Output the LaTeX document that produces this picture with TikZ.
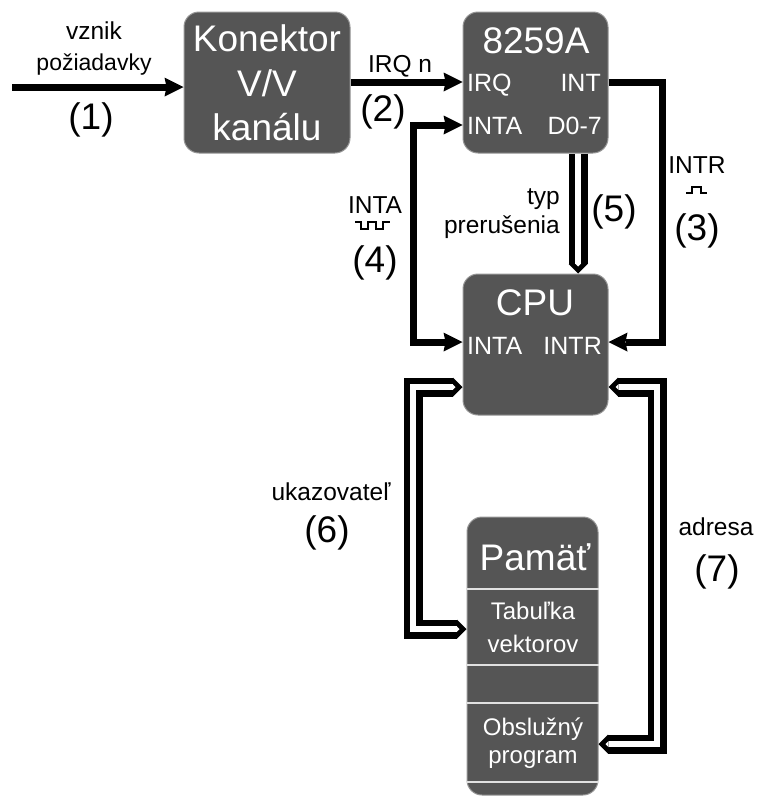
\documentclass[tikz,border=0pt]{standalone}
\usepackage{fontspec}
\setmainfont{Liberation Sans}
\usetikzlibrary{arrows.meta}
\definecolor{boxfill}{RGB}{85,85,85}
\definecolor{boxedge}{RGB}{150,150,150}
\definecolor{divline}{RGB}{225,225,225}
\tikzset{
  box/.style={draw=boxedge, line width=1pt, fill=boxfill, rounded corners=15pt, inner sep=0pt},
  ttl/.style={text=white, font=\fontsize{37}{43}\selectfont, inner sep=0pt, anchor=base},
  port/.style={text=white, font=\fontsize{25}{29}\selectfont, inner sep=0pt},
  memtxt/.style={text=white, font=\fontsize{24}{28}\selectfont, inner sep=0pt, anchor=base},
  lbl/.style={font=\fontsize{24.5}{28}\selectfont, inner sep=0pt, anchor=base},
  num/.style={font=\fontsize{37}{42}\selectfont, inner sep=0pt, anchor=base},
  SingleTip/.tip={Stealth[length=19pt,width=19pt,inset=2pt,line width=0pt]},
  OutTip/.tip={Triangle[length=9.5pt,width=19pt,line width=0pt]},
  InTip/.tip={Triangle[length=3pt,width=6pt,line width=0pt]},
  arr/.style={line width=7pt, line join=miter, -{SingleTip}},
  arrboth/.style={line width=7pt, line join=miter, {SingleTip}-{SingleTip}},
  dblout/.style={line width=19pt, line join=miter, draw=black},
  dblin/.style={line width=6pt, line join=miter, draw=white},
  divider/.style={draw=divline, line width=2pt},
  pulse/.style={line width=1.6pt, line join=miter},
}
\begin{document}
\begin{tikzpicture}[x=1pt, y=-1pt]
\useasboundingbox (0,0) rectangle (756,798);

% boxes
\node[box, minimum width=166pt, minimum height=141pt] (kon) at (267,82.5) {};
\node[box, minimum width=145pt, minimum height=141pt] (pic) at (535.5,82.5) {};
\node[box, minimum width=145pt, minimum height=141pt] (cpu) at (535.5,344.5) {};
\node[box, minimum width=131pt, minimum height=278pt] (mem) at (532.5,656) {};

% box texts
\node[ttl] (konA) at (267,51) {Konektor};
\node[ttl] (konB) at (267,96) {V/V};
\node[ttl] (konC) at (267,140) {kanálu};
\node[ttl] (picT) at (536,53) {8259A};
\node[port, anchor=base west] (pirq) at (467,91) {IRQ};
\node[port, anchor=base east] (pint) at (601,91) {INT};
\node[port, anchor=base west] (pinta) at (467,134) {INTA};
\node[port, anchor=base east] (pdata) at (602,134) {D0-7};
\node[ttl] (cpuT) at (535,315) {CPU};
\node[port, anchor=base west] (cinta) at (467,354) {INTA};
\node[port, anchor=base east] (cintr) at (602,354) {INTR};
\node[ttl] (memT) at (535,570) {Pamäť};
\node[memtxt] (memA) at (533,619) {Tabuľka};
\node[memtxt] (memB) at (533,652) {vektorov};
\node[memtxt] (memC) at (533,735) {Obslužný};
\node[memtxt] (memD) at (533,763) {program};

% memory dividers
\draw[divider] (mem.west |- 0,589) -- (mem.east |- 0,589);
\draw[divider] (mem.west |- 0,665) -- (mem.east |- 0,665);
\draw[divider] (mem.west |- 0,703) -- (mem.east |- 0,703);
\draw[divider] (mem.west |- 0,782) -- (mem.east |- 0,782);

% labels
\node[lbl] (l1a) at (94,39) {vznik};
\node[lbl, font=\fontsize{23}{27}\selectfont] (l1b) at (94,70) {požiadavky};
\node[num] (n1) at (91,129) {(1)};
\node[lbl] (l2) at (400,72) {IRQ n};
\node[num] (n2) at (383,121) {(2)};
\node[lbl] (l3) at (697,173) {INTR};
\node[num] (n3) at (697,240) {(3)};
\node[lbl] (l4) at (375,213) {INTA};
\node[num] (n4) at (375,272) {(4)};
\node[lbl, anchor=base east] (l5a) at (560,204) {typ};
\node[lbl, anchor=base east] (l5b) at (560,233) {prerušenia};
\node[num] (n5) at (614,221) {(5)};
\node[lbl] (l6) at (331,500) {ukazovateľ};
\node[num] (n6) at (327,542) {(6)};
\node[lbl] (l7) at (716,535) {adresa};
\node[num] (n7) at (717,581) {(7)};

% pulse symbols
\draw[pulse] (686,193) -- (692,193) -- (692,187) -- (701,187) -- (701,193) -- (707,193);
\draw[pulse] (355,222) -- (361,222) -- (361,229) -- (368,229) -- (368,222) -- (376,222)
  -- (376,229) -- (383,229) -- (383,222) -- (390,222);

% single connectors
\coordinate (src) at (12,87);
\draw[arr] (src) -- (kon.west |- src);
\coordinate (y2) at (0,82);
\draw[arr] (kon.east |- y2) -- (pic.west |- y2);
\coordinate (b3) at (662,342);
\draw[arr] (pic.east |- y2) -| (b3) -- (cpu.east |- b3);
\coordinate (y4) at (0,125);
\coordinate (b4) at (413,342);
\draw[arrboth] (pic.west |- y4) -| (b4) -- (cpu.west |- b4);

% double connectors
\coordinate (x5) at (578,0);
\draw[dblout, -{OutTip}] (pic.south -| x5) -- (cpu.north -| x5);
\draw[dblin, -{InTip}, shorten >=7pt] (pic.south -| x5) -- (cpu.north -| x5);

\coordinate (b6t) at (413,387);
\coordinate (b6b) at (413,629);
\draw[dblout, {OutTip}-{OutTip}] (cpu.west |- b6t) -- (b6t) -- (b6b) -- (mem.west |- b6b);
\draw[dblin, {InTip}-{InTip}, shorten <=7pt, shorten >=7pt] (cpu.west |- b6t) -- (b6t) -- (b6b) -- (mem.west |- b6b);

\coordinate (b7t) at (657,387);
\coordinate (b7b) at (657,744);
\draw[dblout, {OutTip}-{OutTip}] (cpu.east |- b7t) -- (b7t) -- (b7b) -- (mem.east |- b7b);
\draw[dblin, {InTip}-{InTip}, shorten <=7pt, shorten >=7pt] (cpu.east |- b7t) -- (b7t) -- (b7b) -- (mem.east |- b7b);
\end{tikzpicture}
\end{document}
